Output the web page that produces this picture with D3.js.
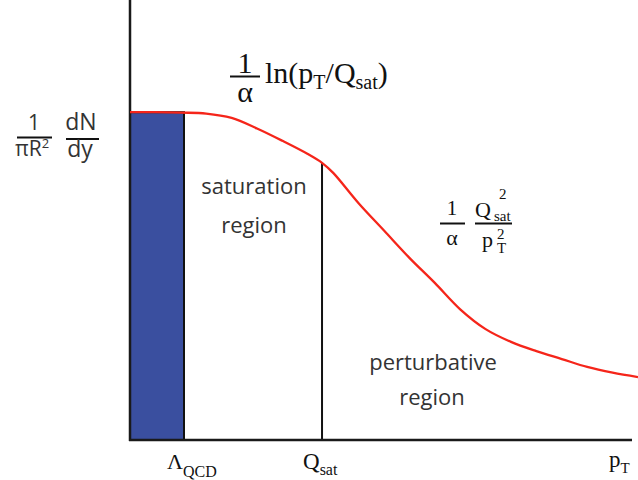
<!DOCTYPE html>
<html>
<head>
<meta charset="utf-8">
<script src="https://cdn.jsdelivr.net/npm/d3@7"></script>
<style>
  html, body { margin: 0; padding: 0; background: #fff; }
  svg { display: block; }
  .sans { font-family: "Open Sans", "Noto Sans", sans-serif; fill: #333; }
  .serif { font-family: "Liberation Serif", "Times New Roman", serif; fill: #111; }
</style>
</head>
<body>
<svg id="chart" width="638" height="480"></svg>
<script>
// Gluon spectrum sketch: dN/dy versus transverse momentum (arbitrary units)
const pT = [0, 0.5, 1, 1.5, 2, 2.5, 3, 3.5, 3.78, 4, 4.5, 5, 5.5, 6, 6.5, 7, 7.5, 8, 8.5, 9, 9.5, 10];
const dNdy = [7.45, 7.45, 7.44, 7.42, 7.32, 7.08, 6.80, 6.50, 6.30, 6.07, 5.38, 4.76, 4.14, 3.57, 2.97, 2.52, 2.23, 2.02, 1.84, 1.66, 1.53, 1.43];
const lambdaQCD = 1.063;   // soft scale: edge of the shaded band
const qSat = 3.78;         // saturation scale
const plateau = 7.45;      // height of the shaded band

const svg = d3.select("#chart");
const x = d3.scaleLinear().domain([0, 10]).range([130, 638]);
const y = d3.scaleLinear().domain([0, 10]).range([440, 0]);

// shaded non-perturbative band
svg.append("rect")
  .attr("x", x(0)).attr("y", y(plateau))
  .attr("width", x(lambdaQCD) - x(0)).attr("height", y(0) - y(plateau))
  .attr("fill", "#3a4f9f").attr("stroke", "#111").attr("stroke-width", 2);

// Q_sat marker
svg.append("line")
  .attr("x1", x(qSat)).attr("x2", x(qSat))
  .attr("y1", y(0)).attr("y2", y(6.30))
  .attr("stroke", "#111").attr("stroke-width", 2);

// axes
svg.append("line").attr("x1", x(0)).attr("x2", x(0)).attr("y1", 0).attr("y2", y(0) + 1)
  .attr("stroke", "#1a1a1a").attr("stroke-width", 2.5);
svg.append("line").attr("x1", x(0) - 1).attr("x2", 632).attr("y1", y(0)).attr("y2", y(0))
  .attr("stroke", "#1a1a1a").attr("stroke-width", 2.5);

// spectrum curve
const line = d3.line().x((d, i) => x(pT[i])).y(d => y(d)).curve(d3.curveCatmullRom.alpha(0.5));
svg.append("path").datum(dNdy)
  .attr("d", line)
  .attr("fill", "none").attr("stroke", "#f5251a").attr("stroke-width", 2.3);

// fraction bar
function frac(gy, x1, x2) {
  svg.append("line").attr("x1", x1).attr("x2", x2).attr("y1", gy).attr("y2", gy)
    .attr("stroke", "#111").attr("stroke-width", 2);
}
function serif(tx, ty, size, anchor) {
  return svg.append("text").attr("class", "serif")
    .attr("font-family", "'Liberation Serif', 'Times New Roman', serif")
    .attr("x", tx).attr("y", ty).attr("font-size", size)
    .attr("text-anchor", anchor || "start");
}

// y-axis label: 1/(pi R^2) dN/dy
svg.append("text").attr("class", "sans").attr("x", 34).attr("y", 130).attr("text-anchor", "middle")
  .attr("font-size", 21).text("1");
frac(137.5, 17, 52);
const piR = svg.append("text").attr("class", "sans").attr("x", 15).attr("y", 156).attr("font-size", 21);
piR.append("tspan").text("πR");
piR.append("tspan").attr("font-size", 13).attr("dy", -8).text("2");
svg.append("text").attr("class", "sans").attr("x", 81).attr("y", 130).attr("text-anchor", "middle")
  .attr("font-size", 23).text("dN");
frac(139, 66, 99);
svg.append("text").attr("class", "sans").attr("x", 80).attr("y", 157).attr("text-anchor", "middle")
  .attr("font-size", 23).text("dy");

// saturation formula: (1/alpha) ln(pT/Qsat)
serif(245, 73, 30, "middle").text("1");
frac(76.5, 230, 260);
serif(245, 102, 30, "middle").text("α");
const f1 = serif(265, 83, 30);
f1.append("tspan").text("ln(p");
f1.append("tspan").attr("font-size", 20).attr("dy", 6).text("T");
f1.append("tspan").attr("dy", -6).text("/Q");
f1.append("tspan").attr("font-size", 20).attr("dy", 6).text("sat");
f1.append("tspan").attr("dy", -6).text(")");

// perturbative formula: (1/alpha) Qsat^2 / pT^2
serif(452, 215, 21, "middle").text("1");
frac(223.5, 440, 465);
serif(452, 245, 22, "middle").text("α");
frac(223.5, 475, 512);
serif(475, 217, 22).text("Q");
serif(499, 199, 15).text("2");
serif(494, 221, 15).text("sat");
serif(482, 247, 22).text("p");
serif(497, 239, 15).text("2");
serif(497, 253, 15).text("T");

// region labels
svg.append("text").attr("class", "sans").attr("x", 254).attr("y", 194).attr("text-anchor", "middle")
  .attr("font-size", 22).text("saturation");
svg.append("text").attr("class", "sans").attr("x", 254).attr("y", 233).attr("text-anchor", "middle")
  .attr("font-size", 22).text("region");
svg.append("text").attr("class", "sans").attr("x", 433).attr("y", 370).attr("text-anchor", "middle")
  .attr("font-size", 22).text("perturbative");
svg.append("text").attr("class", "sans").attr("x", 432).attr("y", 405).attr("text-anchor", "middle")
  .attr("font-size", 22).text("region");

// x-axis labels
const lam = serif(x(lambdaQCD) - 17, 469, 22);
lam.append("tspan").text("Λ");
lam.append("tspan").attr("font-size", 16).attr("dy", 8).text("QCD");
const qs = serif(x(qSat) - 19, 469, 23);
qs.append("tspan").text("Q");
qs.append("tspan").attr("font-size", 16).attr("dy", 6).text("sat");
const pt = serif(609, 467, 23);
pt.append("tspan").text("p");
pt.append("tspan").attr("font-size", 15).attr("dy", 6).text("T");
</script>
</body>
</html>
